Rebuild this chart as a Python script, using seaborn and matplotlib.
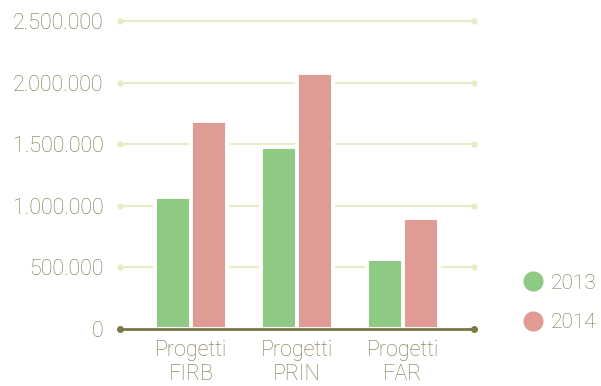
import numpy as np
import pandas as pd
import matplotlib
matplotlib.use("Agg")
import matplotlib.pyplot as plt
from matplotlib.lines import Line2D
import seaborn as sns

categorie = ["Progetti\nFIRB", "Progetti\nPRIN", "Progetti\nFAR"]
anni = ["2013", "2014"]
valori_2013 = [1070000, 1480000, 570000]
valori_2014 = [1690000, 2075000, 900000]
y_ticks = [0, 500000, 1000000, 1500000, 2000000, 2500000]
y_labels = ["0", "500.000", "1.000.000", "1.500.000", "2.000.000", "2.500.000"]

colori = {"2013": "#8fca84", "2014": "#e09c94"}
testo = "#7a7545"

df = pd.DataFrame({
    "categoria": categorie * 2,
    "anno": [anni[0]] * 3 + [anni[1]] * 3,
    "valore": valori_2013 + valori_2014,
})

sns.set_style("white")
plt.rcParams["font.family"] = ["Roboto", "DejaVu Sans"]

fig = plt.figure(figsize=(6.01, 3.86), dpi=100)
ax = fig.add_axes([120 / 601, (386 - 329) / 386, (474 - 120) / 601, (329 - 21) / 386])

xmin, xmax = -0.67, 2.67
# griglia con punti alle estremità
for t in y_ticks[1:]:
    ax.plot([xmin, xmax], [t, t], color="#e6edc6", lw=1.5, marker="o",
            markersize=3.5, zorder=0, clip_on=False)

sns.barplot(data=df, x="categoria", y="valore", hue="anno", palette=colori,
            width=0.68, gap=0, edgecolor="white", linewidth=2.8,
            saturation=1, legend=False, ax=ax, zorder=2)

ax.plot([xmin, xmax], [0, 0], color="#7d7645", lw=2, marker="o",
        markersize=4, zorder=3, clip_on=False)

ax.set_xlim(xmin, xmax)
ax.set_ylim(0, 2500000)
ax.set_yticks(y_ticks)
ax.set_yticklabels(y_labels)
ax.set_xlabel("")
ax.set_ylabel("")
for s in ax.spines.values():
    s.set_visible(False)
ax.tick_params(axis="y", length=0, pad=12, labelsize=15.5, labelcolor=testo)
ax.tick_params(axis="x", length=0, pad=8, labelsize=15.5, labelcolor=testo)
for lab in ax.get_xticklabels() + ax.get_yticklabels():
    lab.set_fontweight("light")
for lab in ax.get_xticklabels():
    lab.set_linespacing(1.18)

handles = [Line2D([], [], marker="o", ls="", markersize=14.5, color=colori[a],
                  markeredgewidth=0) for a in anni]
leg = fig.legend(handles, anni, loc="center left",
                 bbox_to_anchor=(504 / 601, 1 - 303 / 386), frameon=False,
                 fontsize=15, labelspacing=1.0, handletextpad=0.35,
                 handlelength=1.0)
for t in leg.get_texts():
    t.set_color(testo)
    t.set_fontweight("light")

fig.savefig("out.png", dpi=100)
